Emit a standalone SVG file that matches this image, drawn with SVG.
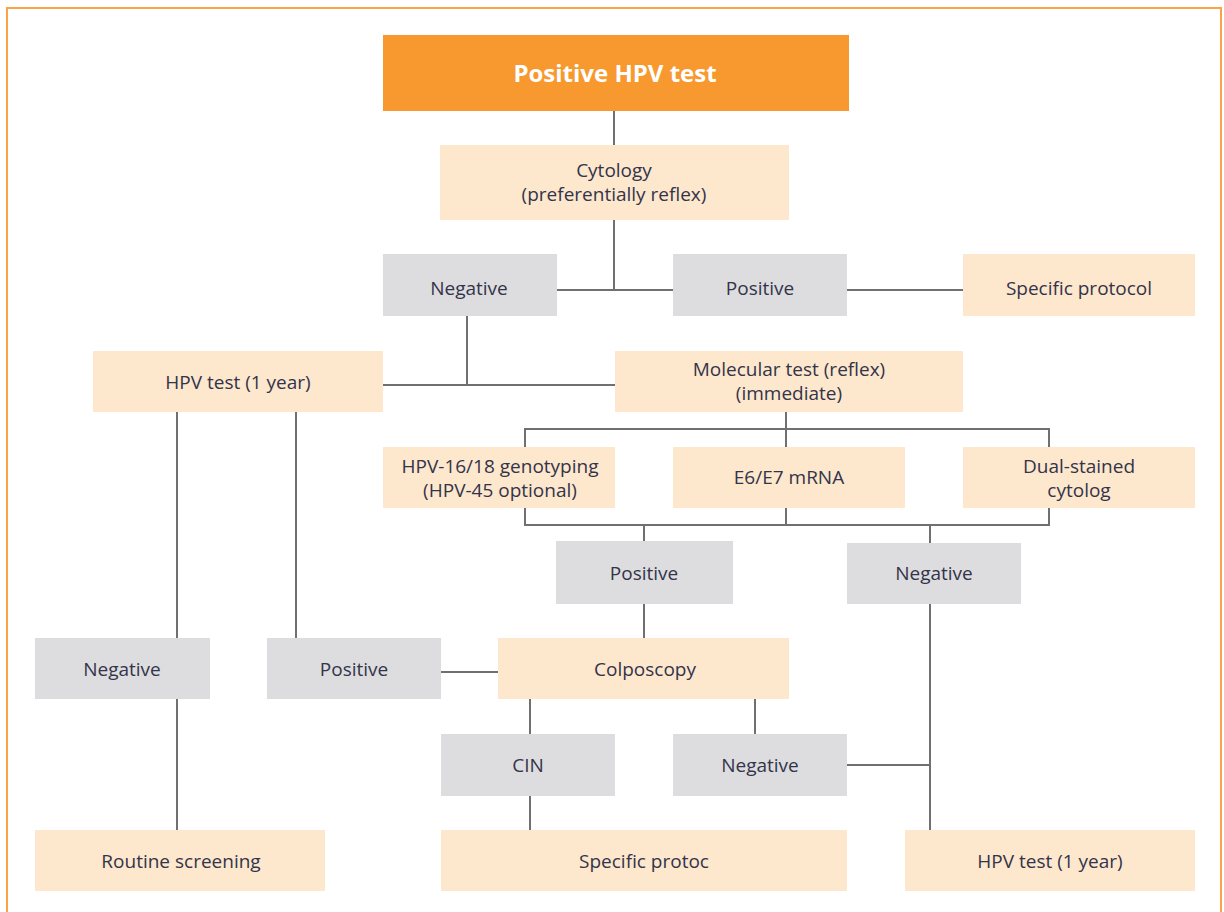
<svg xmlns="http://www.w3.org/2000/svg" width="1224" height="912" viewBox="0 0 1224 912">
  <style>
    .frame { fill: none; stroke: #F8A447; stroke-width: 2; }
    .start { fill: #F7992F; }
    .step { fill: #FDE7CD; }
    .result { fill: #DDDDDF; }
    .lbl { font-family: "Open Sans", "Liberation Sans", sans-serif; font-size: 19px; fill: #33344A; text-anchor: middle; }
    .title { font-family: "Open Sans", "Liberation Sans", sans-serif; font-size: 24px; font-weight: bold; fill: #FFFFFF; text-anchor: middle; }
    .conn line { stroke: #707070; stroke-width: 2; fill: none; }
  </style>

  <rect class="frame" x="7" y="8" width="1214" height="930"/>

  <!-- connectors -->
  <g id="connectors" class="conn">
    <line x1="614" y1="111" x2="614" y2="145"/>
    <line x1="614" y1="220" x2="614" y2="290"/>
    <line x1="557" y1="290" x2="673" y2="290"/>
    <line x1="847" y1="290" x2="963" y2="290"/>
    <line x1="467" y1="316" x2="467" y2="385"/>
    <line x1="383" y1="385" x2="615" y2="385"/>
    <line x1="786" y1="412" x2="786" y2="447"/>
    <line x1="525" y1="429" x2="1049" y2="429"/>
    <line x1="525" y1="428" x2="525" y2="447"/>
    <line x1="1049" y1="428" x2="1049" y2="447"/>
    <line x1="525" y1="508" x2="525" y2="526"/>
    <line x1="786" y1="508" x2="786" y2="525"/>
    <line x1="1049" y1="508" x2="1049" y2="526"/>
    <line x1="524" y1="525" x2="1050" y2="525"/>
    <line x1="644" y1="525" x2="644" y2="541"/>
    <line x1="930" y1="525" x2="930" y2="543"/>
    <line x1="644" y1="604" x2="644" y2="638"/>
    <line x1="930" y1="604" x2="930" y2="830"/>
    <line x1="177" y1="412" x2="177" y2="638"/>
    <line x1="296" y1="412" x2="296" y2="638"/>
    <line x1="441" y1="672" x2="498" y2="672"/>
    <line x1="530" y1="699" x2="530" y2="734"/>
    <line x1="755" y1="699" x2="755" y2="734"/>
    <line x1="530" y1="796" x2="530" y2="830"/>
    <line x1="847" y1="765" x2="930" y2="765"/>
    <line x1="177" y1="699" x2="177" y2="830"/>
  </g>

  <!-- nodes -->
  <g id="positive-hpv-test">
    <rect class="start" x="383" y="35" width="466" height="76"/>
    <text class="title" x="615" y="82">Positive HPV test</text>
  </g>
  <g id="cytology">
    <rect class="step" x="440" y="145" width="349" height="75"/>
    <text class="lbl" x="614" y="177">Cytology<tspan x="614" dy="24">(preferentially reflex)</tspan></text>
  </g>
  <g id="cytology-negative">
    <rect class="result" x="383" y="254" width="174" height="62"/>
    <text class="lbl" x="469" y="295">Negative</text>
  </g>
  <g id="cytology-positive">
    <rect class="result" x="673" y="254" width="174" height="62"/>
    <text class="lbl" x="760" y="295">Positive</text>
  </g>
  <g id="specific-protocol-top">
    <rect class="step" x="963" y="254" width="232" height="62"/>
    <text class="lbl" x="1079" y="295">Specific protocol</text>
  </g>
  <g id="hpv-test-1-year-left">
    <rect class="step" x="93" y="351" width="290" height="61"/>
    <text class="lbl" x="238" y="389">HPV test (1 year)</text>
  </g>
  <g id="molecular-test">
    <rect class="step" x="615" y="351" width="348" height="61"/>
    <text class="lbl" x="789" y="376">Molecular test (reflex)<tspan x="789" dy="24">(immediate)</tspan></text>
  </g>
  <g id="genotyping">
    <rect class="step" x="383" y="447" width="232" height="61"/>
    <text class="lbl" x="500" y="473">HPV-16/18 genotyping<tspan x="500" dy="24">(HPV-45 optional)</tspan></text>
  </g>
  <g id="e6-e7-mrna">
    <rect class="step" x="673" y="447" width="232" height="61"/>
    <text class="lbl" x="789" y="484">E6/E7 mRNA</text>
  </g>
  <g id="dual-stained">
    <rect class="step" x="963" y="447" width="232" height="61"/>
    <text class="lbl" x="1079" y="473">Dual-stained<tspan x="1079" dy="24">cytolog</tspan></text>
  </g>
  <g id="molecular-positive">
    <rect class="result" x="556" y="541" width="177" height="63"/>
    <text class="lbl" x="644" y="580">Positive</text>
  </g>
  <g id="molecular-negative">
    <rect class="result" x="847" y="543" width="174" height="61"/>
    <text class="lbl" x="934" y="580">Negative</text>
  </g>
  <g id="hpv-negative">
    <rect class="result" x="35" y="638" width="175" height="61"/>
    <text class="lbl" x="122" y="676">Negative</text>
  </g>
  <g id="hpv-positive">
    <rect class="result" x="267" y="638" width="174" height="61"/>
    <text class="lbl" x="354" y="676">Positive</text>
  </g>
  <g id="colposcopy">
    <rect class="step" x="498" y="638" width="291" height="61"/>
    <text class="lbl" x="645" y="676">Colposcopy</text>
  </g>
  <g id="cin">
    <rect class="result" x="441" y="734" width="174" height="62"/>
    <text class="lbl" x="528" y="772">CIN</text>
  </g>
  <g id="colposcopy-negative">
    <rect class="result" x="673" y="734" width="174" height="62"/>
    <text class="lbl" x="760" y="772">Negative</text>
  </g>
  <g id="routine-screening">
    <rect class="step" x="35" y="830" width="290" height="61"/>
    <text class="lbl" x="181" y="868">Routine screening</text>
  </g>
  <g id="specific-protocol-bottom">
    <rect class="step" x="441" y="830" width="406" height="61"/>
    <text class="lbl" x="644" y="868">Specific protoc</text>
  </g>
  <g id="hpv-test-1-year-right">
    <rect class="step" x="905" y="830" width="290" height="61"/>
    <text class="lbl" x="1050" y="868">HPV test (1 year)</text>
  </g>
</svg>
